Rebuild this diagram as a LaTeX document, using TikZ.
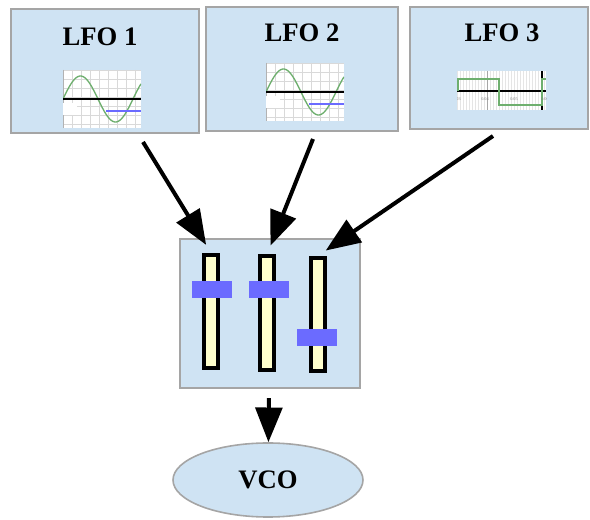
\documentclass[tikz,border=0pt]{standalone}
\usepackage{fontspec}
\setmainfont{Liberation Serif}
\usetikzlibrary{arrows.meta,shapes.geometric}
\definecolor{panel}{RGB}{207,227,243}
\definecolor{rim}{RGB}{165,165,165}
\definecolor{knob}{RGB}{107,107,255}
\definecolor{cream}{RGB}{255,255,204}
\definecolor{wave}{RGB}{110,175,110}
\tikzset{
  lfobox/.style={draw=rim, fill=panel, line width=1.2pt, inner sep=0pt},
  title/.style={font=\fontsize{20}{20}\selectfont\bfseries},
  fader/.style={draw=black, fill=cream, line width=3pt, minimum width=10.5pt, minimum height=85pt, inner sep=0pt},
  slider/.style={fill=knob, minimum width=30pt, minimum height=12.75pt, inner sep=0pt},
  link/.style={line width=3pt, -{Triangle[length=26pt,width=20pt]}},
  gridline/.style={gray!30, line width=0.4pt}
}
\begin{document}
\begin{tikzpicture}[x=0.75pt, y=-0.75pt]
	\useasboundingbox (0,0) rectangle (590,520);
	
	% the three oscillators
	\node[lfobox, minimum width=141pt, minimum height=93pt] (lfo1) at (105,71) {};
	\node[lfobox, minimum width=144pt, minimum height=93pt] (lfo2) at (302,69) {};
	\node[lfobox, minimum width=133.5pt, minimum height=91.5pt] (lfo3) at (499,68) {};
	\node[title] (t1) at (100,37) {LFO 1};
	\node[title] (t2) at (302,33) {LFO 2};
	\node[title] (t3) at (502,33) {LFO 3};
	
	% sine screenshots
	\foreach \ox/\oy in {63/70, 266/63}{
		\begin{scope}[shift={(\ox,\oy)}]
			\clip (0,0) rectangle (78,58);
			\fill[white] (0,0) rectangle (78,58);
			\foreach \g in {0,9,...,72}{
				\draw[gridline] (\g,0) -- (\g,58);
				\draw[gridline] (0,\g) -- (78,\g); }
			\draw[gray!60, line width=0.8pt] (0,0) -- (0,58);
			\draw[wave, line width=1pt, domain=0:78, samples=80] plot (\x,{29-23*sin(5.142857*\x)});
			\draw[black, line width=1pt] (0,29) -- (78,29);
			\draw[knob, line width=1.6pt] (43,41) -- (78,41);
			\fill[white] (0,33) rectangle (14,45);
		\end{scope}
	}
	
	% square wave screenshot
	\begin{scope}[shift={(457,71)}]
		\clip (0,0) rectangle (89,39);
		\fill[white] (0,0) rectangle (89,39);
		\foreach \g in {0,3,...,89}{
			\draw[gray!20, line width=0.4pt] (\g,0) -- (\g,39); }
		\draw[gray!70, line width=0.5pt] (30,0) -- (30,39);
		\draw[black, line width=0.8pt] (0,20) -- (89,20);
		\draw[black, line width=0.8pt] (85,0) -- (85,39);
		\draw[wave, line width=0.9pt] (1,20) -- (1,8) -- (42,8) -- (42,34) -- (85,34) -- (85,8) -- (89,8);
		\foreach \lx/\lt in {0/0.03, 28/0.04, 57/0.05, 88/0.06}{
			\node[gray, font=\fontsize{3.2}{3.2}\selectfont, inner sep=0pt] (tick\lx) at (\lx,28) {\lt}; }
	\end{scope}
	
	% mixer with three faders
	\node[lfobox, minimum width=135pt, minimum height=111.75pt] (mixer) at (270,313.5) {};
	\node[fader] (fader1) at (211,311.5) {};
	\node[fader] (fader2) at (267,313) {};
	\node[fader] (fader3) at (318,314.5) {};
	\node[slider] (knob1) at (212,289.5) {};
	\node[slider] (knob2) at (268.5,289.5) {};
	\node[slider] (knob3) at (316.5,338) {};
	
	\node[draw=rim, fill=panel, line width=1.2pt, ellipse, minimum width=142.5pt, minimum height=55.5pt, title] (vco) at (268,480) {VCO};
	
	% connections
	\coordinate (o1) at (143,142);
	\coordinate (o2) at (313,139);
	\coordinate (o3) at (493,136);
	\draw[link, shorten >=7pt] (o1) -- (fader1.north);
	\draw[link, shorten >=7pt] (o2) -- (fader2.north);
	\draw[link, shorten >=7pt] (o3) -- (fader3.north);
	\draw[link, shorten <=7pt] (mixer) -- (vco);
	
\end{tikzpicture}
\end{document}
